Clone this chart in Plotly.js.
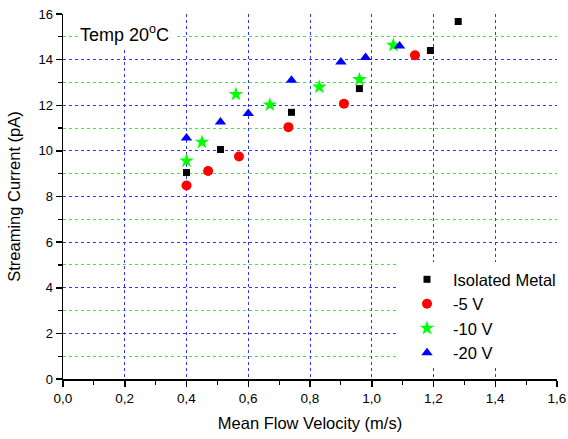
<!DOCTYPE html>
<html><head><meta charset="utf-8">
<script src="https://cdn.plot.ly/plotly-3.0.1.min.js"></script>
<style>html,body{margin:0;padding:0;background:#fff;}#chart{width:568px;height:439px;}</style>
</head><body><div id="chart"></div>
<script>
const seriesNames = ["Isolated Metal", "-5 V", "-10 V", "-20 V"];
const isoX = [0.40, 0.51, 0.74, 0.96, 1.19, 1.28];
const isoY = [9.05, 10.06, 11.69, 12.73, 14.40, 15.67];
const m5X = [0.40, 0.47, 0.57, 0.73, 0.91, 1.14];
const m5Y = [8.48, 9.12, 9.75, 11.04, 12.07, 14.19];
const m10X = [0.40, 0.45, 0.56, 0.67, 0.83, 0.96, 1.07];
const m10Y = [9.56, 10.38, 12.48, 12.02, 12.80, 13.13, 14.63];
const m20X = [0.40, 0.51, 0.60, 0.74, 0.90, 0.98, 1.09];
const m20Y = [10.56, 11.27, 11.64, 13.10, 13.90, 14.09, 14.60];

const font = "Liberation Sans, Arial, sans-serif";
const traces = [
  {x: isoX, y: isoY, name: seriesNames[0], mode: "markers", type: "scatter",
   marker: {symbol: "square", size: 7, color: "#000000"}},
  {x: m5X, y: m5Y, name: seriesNames[1], mode: "markers", type: "scatter",
   marker: {symbol: "circle", size: 10, color: "#ff0000"}},
  {x: m10X, y: m10Y, name: seriesNames[2], mode: "markers", type: "scatter",
   marker: {symbol: "star", size: 11, color: "#00ff00"}},
  {x: m20X, y: m20Y, name: seriesNames[3], mode: "markers", type: "scatter",
   marker: {symbol: "triangle-up", size: 10, color: "#0000ff"}}
];

const layout = {
  width: 568, height: 439,
  margin: {l: 63, r: 11, t: 14, b: 60, autoexpand: false},
  paper_bgcolor: "#fff", plot_bgcolor: "#fff",
  separators: ",.",
  font: {family: font, color: "#000", size: 13},
  showlegend: true,
  legend: {xref: "container", yref: "container", x: 0.706, y: 0.403,
           xanchor: "left", yanchor: "top", bgcolor: "rgba(0,0,0,0)",
           font: {family: font, size: 16.5, color: "#000"}, itemwidth: 42, tracegroupgap: 0},
  xaxis: {range: [0, 1.6], dtick: 0.2, tick0: 0, tickformat: ".1f",
          showline: true, linecolor: "#000", linewidth: 1.5,
          ticks: "outside", ticklen: 6, tickwidth: 1.5, tickcolor: "#000",
          showgrid: true, gridcolor: "#3333ff", griddash: "dot", gridwidth: 1,
          zeroline: false,
          minor: {dtick: 0.1, ticks: "outside", ticklen: 4, tickwidth: 1.2, tickcolor: "#000", showgrid: false},
          tickfont: {size: 13.5},
          title: {text: "Mean Flow Velocity (m/s)", font: {size: 16.5}, standoff: 12}},
  yaxis: {range: [0, 16], dtick: 2, tick0: 0,
          showline: true, linecolor: "#000", linewidth: 1.5,
          ticks: "outside", ticklen: 6, tickwidth: 1.5, tickcolor: "#000",
          showgrid: true, gridcolor: "#3333ff", griddash: "dot", gridwidth: 1,
          zeroline: false,
          minor: {dtick: 1, ticks: "outside", ticklen: 4, tickwidth: 1.2, tickcolor: "#000",
                  showgrid: true, gridcolor: "#33ee33", griddash: "dot", gridwidth: 1},
          tickfont: {size: 13},
          title: {text: "Streaming Current (pA)", font: {size: 16.5}, standoff: 13}},
  shapes: [
    {type: "rect", xref: "x", yref: "y", x0: 1.08, x1: 1.6, y0: 0.48, y1: 5.13,
     fillcolor: "#fff", line: {width: 0}, layer: "above"},
    {type: "rect", xref: "x", yref: "y", x0: 0.05, x1: 0.364, y0: 14.5, y1: 16,
     fillcolor: "#fff", line: {width: 0}, layer: "above"}
  ],
  annotations: [
    {text: "Temp 20<sup>o</sup>C", xref: "x", yref: "y", x: 0.05, y: 15.15,
     xanchor: "left", yanchor: "middle", showarrow: false,
     font: {family: font, size: 18, color: "#000"}}
  ]
};

Plotly.newPlot("chart", traces, layout, {staticPlot: true});
</script></body></html>
